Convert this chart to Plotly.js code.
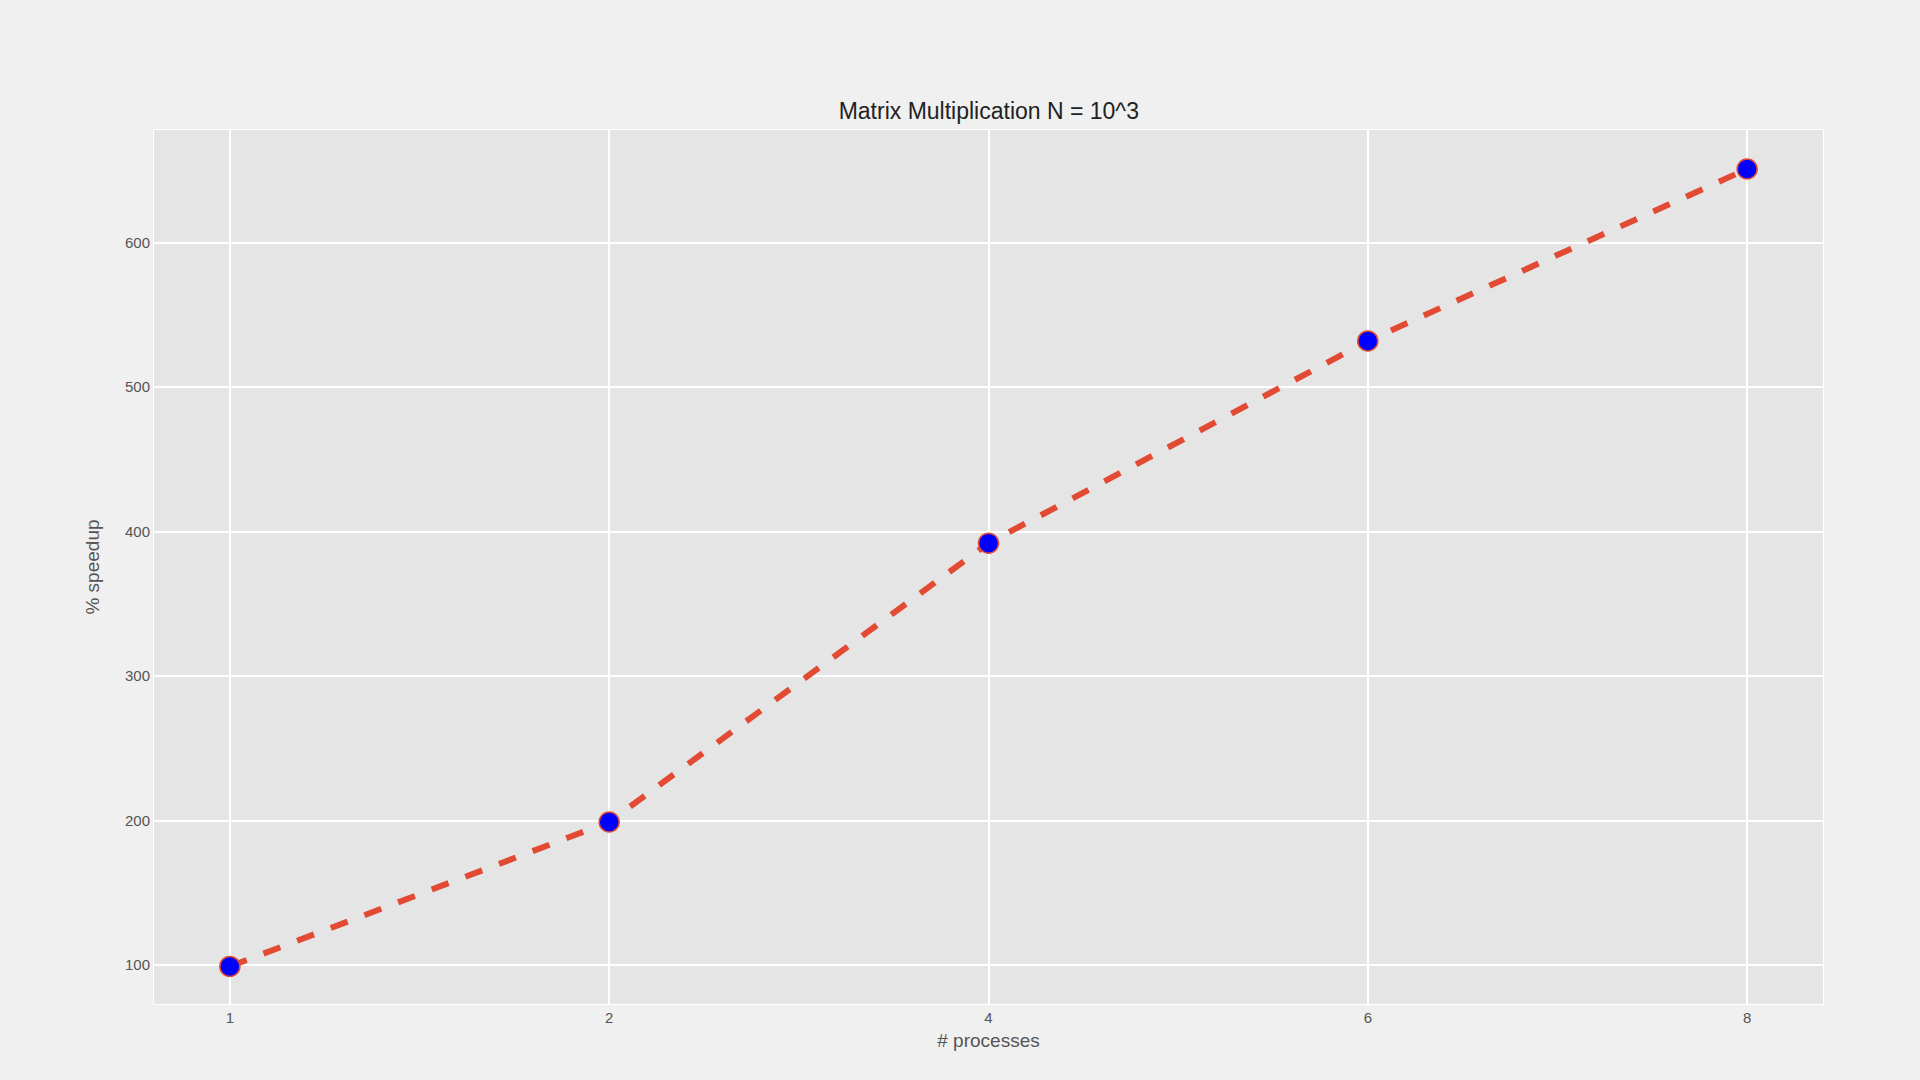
<!DOCTYPE html>
<html>
<head>
<meta charset="utf-8">
<script src="https://cdn.plot.ly/plotly-3.0.1.min.js"></script>
<style>html,body{margin:0;padding:0;background:#f0f0f0;}</style>
</head>
<body>
<div id="chart" style="width:1920px;height:1080px;"></div>
<script>
const processes = ['1', '2', '4', '6', '8'];
const speedup = [99, 199, 392, 532, 651];

const trace = {
	x: processes,
	y: speedup,
	mode: 'lines+markers',
	type: 'scatter',
	line: {color: '#E24A33', width: 6, dash: 'dash'},
	marker: {color: '#0000ff', size: 20, line: {color: '#E24A33', width: 1.5}}
};

const layout = {
	width: 1920,
	height: 1080,
	paper_bgcolor: '#f0f0f0',
	plot_bgcolor: '#e5e5e5',
	font: {family: 'Liberation Sans, Arial, sans-serif', color: '#555555'},
	margin: {l: 154, r: 97, t: 130, b: 76},
	showlegend: false,
	title: {text: 'Matrix Multiplication N = 10^3', x: 0.515, xanchor: 'center', y: 0.897, yanchor: 'middle',
		font: {size: 23, color: '#222222'}},
	xaxis: {
		type: 'category',
		range: [-0.2, 4.2],
		showgrid: true, gridcolor: '#ffffff', gridwidth: 1.5,
		zeroline: false, showline: true, linecolor: '#ffffff', mirror: true,
		ticks: '', tickfont: {size: 15},
		title: {text: '# processes', font: {size: 19}, standoff: 8}
	},
	yaxis: {
		range: [73, 678],
		tickvals: [100, 200, 300, 400, 500, 600],
		showgrid: true, gridcolor: '#ffffff', gridwidth: 1.5,
		zeroline: false, showline: true, linecolor: '#ffffff', mirror: true,
		ticks: '', tickfont: {size: 15},
		title: {text: '% speedup', font: {size: 19}, standoff: 20}
	}
};

Plotly.newPlot('chart', [trace], layout, {displayModeBar: false});
</script>
</body>
</html>
